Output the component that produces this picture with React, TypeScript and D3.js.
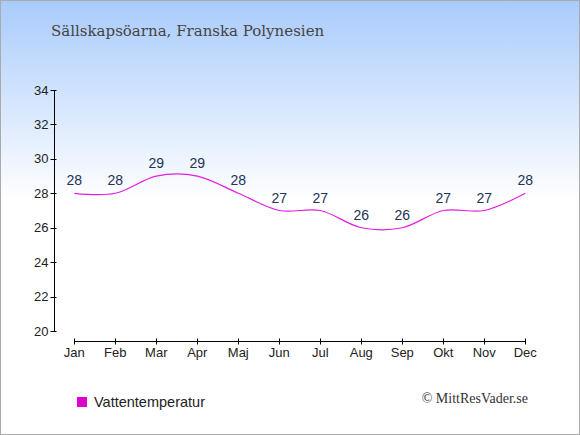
import { useEffect, useRef } from "react"
import * as d3 from "d3"

const months = ["Jan", "Feb", "Mar", "Apr", "Maj", "Jun", "Jul", "Aug", "Sep", "Okt", "Nov", "Dec"]
const waterTemp = [28, 28, 29, 29, 28, 27, 27, 26, 26, 27, 27, 28]
const yTicks = [20, 22, 24, 26, 28, 30, 32, 34]

const title = "Sällskapsöarna, Franska Polynesien"
const legendLabel = "Vattentemperatur"
const credit = "© MittResVader.se"

export default function App() {
  const svgRef = useRef<SVGSVGElement>(null)

  useEffect(() => {
    if (!svgRef.current) return
    const svg = d3.select(svgRef.current)
    svg.selectAll("*").remove()

    const width = 580
    const height = 435

    // background gradient
    const defs = svg.append("defs")
    const grad = defs
      .append("linearGradient")
      .attr("id", "bg")
      .attr("x1", 0)
      .attr("y1", 0)
      .attr("x2", 0)
      .attr("y2", 1)
    grad.append("stop").attr("offset", "0%").attr("stop-color", "#a9cbfc")
    grad.append("stop").attr("offset", "46%").attr("stop-color", "#ffffff")
    grad.append("stop").attr("offset", "100%").attr("stop-color", "#ffffff")

    svg
      .append("rect")
      .attr("x", 0.5)
      .attr("y", 0.5)
      .attr("width", width - 1)
      .attr("height", height - 1)
      .attr("fill", "url(#bg)")
      .attr("stroke", "#aaaaaa")

    // title
    svg
      .append("text")
      .attr("x", 51)
      .attr("y", 36)
      .attr("font-family", "'DejaVu Serif', serif")
      .attr("font-size", "15px")
      .attr("fill", "#444444")
      .text(title)

    const x = d3.scalePoint<string>().domain(months).range([74.3, 525.3])
    const y = d3.scaleLinear().domain([20, 34]).range([331, 90])

    // y axis
    const yAxis = svg.append("g").attr("transform", "translate(54.5,0)")
    yAxis
      .append("line")
      .attr("x1", 0)
      .attr("x2", 0)
      .attr("y1", y(34))
      .attr("y2", y(20))
      .attr("stroke", "#000")
    yAxis
      .selectAll("g.tick")
      .data(yTicks)
      .enter()
      .append("g")
      .attr("class", "tick")
      .each(function (d) {
        const g = d3.select(this)
        g.append("line")
          .attr("x1", -4)
          .attr("x2", 2)
          .attr("y1", Math.round(y(d)) + 0.5)
          .attr("y2", Math.round(y(d)) + 0.5)
          .attr("stroke", "#000")
        g.append("text")
          .attr("x", -6)
          .attr("y", y(d))
          .attr("dy", "0.35em")
          .attr("text-anchor", "end")
          .attr("font-family", "'Liberation Sans', Arial, sans-serif")
          .attr("font-size", "13px")
          .attr("fill", "#222")
          .text(d)
      })

    // x axis
    const axisY = 341.5
    const xAxis = svg.append("g")
    xAxis
      .append("line")
      .attr("x1", x(months[0])!)
      .attr("x2", x(months[months.length - 1])!)
      .attr("y1", axisY)
      .attr("y2", axisY)
      .attr("stroke", "#000")
    months.forEach((m) => {
      const px = Math.round(x(m)!) + 0.5
      xAxis
        .append("line")
        .attr("x1", px)
        .attr("x2", px)
        .attr("y1", axisY - 3)
        .attr("y2", axisY + 3)
        .attr("stroke", "#000")
      xAxis
        .append("text")
        .attr("x", x(m)!)
        .attr("y", 357)
        .attr("text-anchor", "middle")
        .attr("font-family", "'Liberation Sans', Arial, sans-serif")
        .attr("font-size", "13px")
        .attr("fill", "#222")
        .text(m)
    })

    // line
    const line = d3
      .line<number>()
      .x((_, i) => x(months[i])!)
      .y((d) => y(d))
      .curve(d3.curveCardinal.tension(0))
    svg
      .append("path")
      .datum(waterTemp)
      .attr("fill", "none")
      .attr("stroke", "#e020e0")
      .attr("stroke-width", 1.2)
      .attr("d", line)

    // value labels
    svg
      .append("g")
      .selectAll("text")
      .data(waterTemp)
      .enter()
      .append("text")
      .attr("x", (_, i) => x(months[i])!)
      .attr("y", (d) => y(d) - 8)
      .attr("text-anchor", "middle")
      .attr("font-family", "'Liberation Sans', Arial, sans-serif")
      .attr("font-size", "14px")
      .attr("fill", "#223355")
      .text((d) => d)

    // legend
    svg
      .append("rect")
      .attr("x", 77)
      .attr("y", 397)
      .attr("width", 10)
      .attr("height", 10)
      .attr("fill", "#dd00cc")
    svg
      .append("text")
      .attr("x", 94)
      .attr("y", 402)
      .attr("dy", "0.35em")
      .attr("font-family", "'Liberation Sans', Arial, sans-serif")
      .attr("font-size", "14.5px")
      .attr("fill", "#222")
      .text(legendLabel)

    svg
      .append("text")
      .attr("x", 528)
      .attr("y", 403)
      .attr("text-anchor", "end")
      .attr("font-family", "'Liberation Serif', serif")
      .attr("font-size", "14px")
      .attr("fill", "#333")
      .text(credit)
  }, [])

  return (
    <svg
      ref={svgRef}
      width={580}
      height={435}
      style={{ position: "absolute", left: 0, top: 0, display: "block" }}
    />
  )
}
